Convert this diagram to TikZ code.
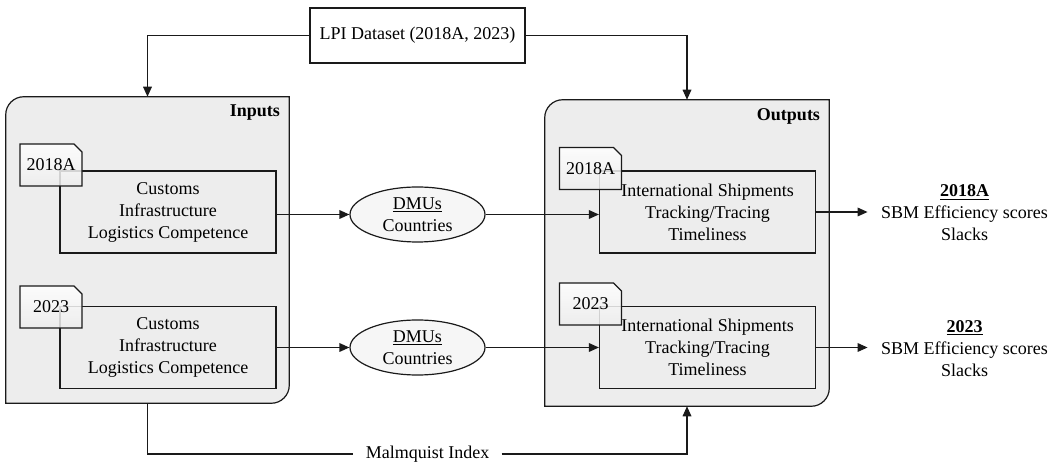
\documentclass[tikz,border=0pt]{standalone}
\usepackage{fontspec}
\setmainfont{Liberation Serif}
\usetikzlibrary{arrows.meta,shapes.geometric,shapes.misc}
\definecolor{panelgray}{HTML}{EDEDED}
\definecolor{ink}{HTML}{1A1A1A}
\newcommand{\txtsize}{\fontsize{13.5}{16.5}\selectfont}
\tikzset{
  every node/.style={font=\txtsize},
  conn/.style={line width=0.9pt, draw=ink},
  arr/.style={conn, -{Triangle[length=7.5pt,width=6.5pt]}},
  panel/.style={draw=ink, line width=0.9pt, fill=panelgray},
  panelframe/.style={minimum width=#1, minimum height=229.5pt, inner sep=0pt},
  factorbox/.style={draw=ink, line width=0.9pt, align=center, minimum width=162pt, minimum height=61.5pt, inner sep=0pt},
  yeartab/.style={chamfered rectangle, chamfered rectangle corners=north east,
    chamfered rectangle xsep=3pt, chamfered rectangle ysep=3pt,
    draw=ink, line width=0.9pt, top color=white, bottom color=gray!14,
    fill opacity=0.85, text opacity=1, minimum width=46.5pt, minimum height=31.5pt, inner sep=0pt},
  dmu/.style={ellipse, draw=ink, line width=0.9pt, fill=gray!7, align=center,
    minimum width=101.25pt, minimum height=41.25pt, inner sep=0pt},
  panellabel/.style={anchor=east, inner sep=0pt, font=\txtsize\bfseries},
  result/.style={align=center, inner xsep=10pt, inner ysep=0pt},
}
\begin{document}
\begin{tikzpicture}[x=0.75pt, y=-0.75pt]
\useasboundingbox (0,0) rectangle (1057,466);

% data source
\node[draw=ink, line width=0.9pt, minimum width=161.25pt, minimum height=41.25pt, inner sep=0pt] (lpi) at (417.5,35.5) {LPI Dataset (2018A, 2023)};

% input and output panels (rounded at top-left and bottom-right)
\node[panelframe=212.25pt] (inbox) at (147.5,250) {};
\node[panelframe=213pt] (outbox) at (687,253) {};
\foreach \p in {inbox,outbox}{
  \path[panel] (\p.north east) -- ([xshift=13.5pt]\p.north west)
    arc[start angle=90, end angle=180, radius=13.5pt] -- (\p.south west)
    -- ([xshift=-13.5pt]\p.south east)
    arc[start angle=-90, end angle=0, radius=13.5pt] -- cycle;
}
\node[panellabel] (inlabel) at ([xshift=-6.75pt,yshift=-12pt]inbox.north east) {Inputs};
\node[panellabel] (outlabel) at ([xshift=-6.75pt,yshift=-12.75pt]outbox.north east) {Outputs};

% input factor boxes
\node[factorbox] (in1) at (168,212) {Customs\\Infrastructure\\Logistics Competence};
\node[factorbox] (in2) at (168,347.5) {Customs\\Infrastructure\\Logistics Competence};
% output factor boxes
\node[factorbox] (out1) at (707.5,212) {International Shipments\\Tracking/Tracing\\Timeliness};
\node[factorbox] (out2) at (707.5,347.5) {International Shipments\\Tracking/Tracing\\Timeliness};

% year tabs
\node[yeartab] (tin1) at (51,165) {2018A};
\node[yeartab] (tin2) at (51,307) {2023};
\node[yeartab] (tout1) at (590.5,168.5) {2018A};
\node[yeartab] (tout2) at (590.5,304) {2023};

% decision making units
\node[dmu] (dmu1) at (417.5,214.5) {\underline{DMUs}\\Countries};
\node[dmu] (dmu2) at (417.5,347.5) {\underline{DMUs}\\Countries};

% results
\node[result] (res1) at (964.5,213) {\textbf{\underline{2018A}}\\SBM Efficiency scores\\Slacks};
\node[result] (res2) at (964.5,348.5) {\textbf{\underline{2023}}\\SBM Efficiency scores\\Slacks};

% Malmquist index label
\node[fill=white, inner xsep=9pt, inner ysep=2pt] (mq) at (427.5,454) {Malmquist Index};

% connectors
\draw[arr] (lpi.west) -| (inbox.north);
\draw[arr] (lpi.east) -| (outbox.north);
\draw[arr] (in1.east |- dmu1.west) -- (dmu1.west);
\draw[arr] (dmu1.east) -- (out1.west |- dmu1.east);
\draw[arr] (in2.east |- dmu2.west) -- (dmu2.west);
\draw[arr] (dmu2.east) -- (out2.west |- dmu2.east);
\draw[arr] (out1.east) -- (out1.east -| res1.west);
\draw[arr] (out2.east) -- (out2.east -| res2.west);
\draw[conn] (inbox.south) |- (mq.west);
\draw[arr] (mq.east) -| (outbox.south);
\end{tikzpicture}
\end{document}
